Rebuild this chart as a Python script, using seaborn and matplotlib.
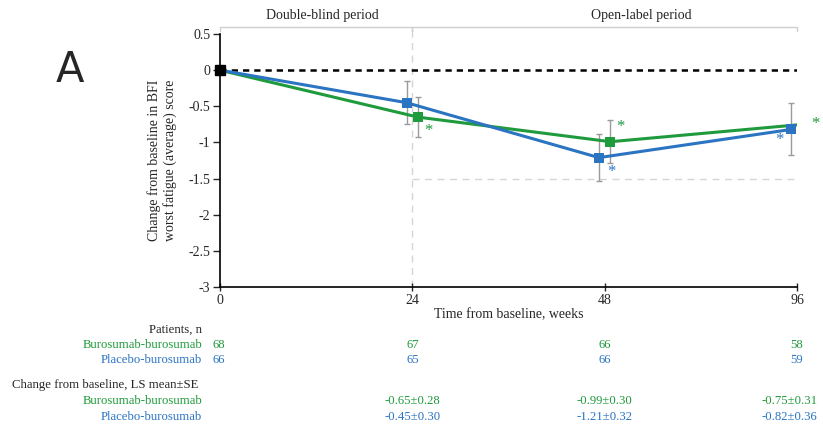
import numpy as np
import pandas as pd
import seaborn as sns
import matplotlib.pyplot as plt
from matplotlib.transforms import blended_transform_factory

# data
weeks = ["0", "24", "48", "96"]
buro_mean = [0, -0.65, -0.99, -0.75]
buro_se = [0, 0.28, 0.30, 0.31]
plac_mean = [0, -0.45, -1.21, -0.82]
plac_se = [0, 0.30, 0.32, 0.36]
buro_n = [68, 67, 66, 58]
plac_n = [66, 65, 66, 59]
yticks = [0.5, 0, -0.5, -1, -1.5, -2, -2.5, -3]

GREEN = "#1f9a3c"
BLUE = "#2a74c2"
GREY = "#9a9a9a"

sns.set_theme(style="white")
plt.rcParams["font.family"] = ["Liberation Serif", "DejaVu Serif"]

pos = np.arange(len(weeks))
df = pd.concat([
    pd.DataFrame({"pos": pos + 0.03, "mean": buro_mean, "se": buro_se, "group": "Burosumab-burosumab"}),
    pd.DataFrame({"pos": pos - 0.03, "mean": plac_mean, "se": plac_se, "group": "Placebo-burosumab"}),
])
df.loc[df["pos"] < 0.5, "pos"] = 0

fig = plt.figure(figsize=(8.23, 4.29), dpi=100)
ax = fig.add_axes([0.2673, 0.331, 0.9684 - 0.2673, 0.9207 - 0.331])

# reference lines
ax.plot([0, 3], [0, 0], color="black", lw=1.8, ls=(0, (2.5, 2)), zorder=1)
ax.plot([1, 3], [-1.5, -1.5], color="#d5d5d5", lw=1, ls=(0, (5, 4)), zorder=0)
ax.plot([1, 1], [-3, 0.6], color="#d5d5d5", lw=1, ls=(0, (5, 4)), zorder=0, clip_on=False)

# brackets
for x0, x1 in [(0, 1), (1, 3)]:
    ax.plot([x0, x0, x1, x1], [0.54, 0.6, 0.6, 0.54], color="#cfcfcf", lw=1, clip_on=False)
ax.text(0.53, 0.66, "Double-blind period", ha="center", va="bottom", fontsize=10)
ax.text(2.19, 0.66, "Open-label period", ha="center", va="bottom", fontsize=10)

# error bars
for g, sub in df.groupby("group"):
    sub = sub[sub["se"] > 0]
    ax.errorbar(sub["pos"], sub["mean"], yerr=sub["se"], fmt="none", ecolor=GREY,
                elinewidth=1, capsize=2.5, capthick=1, zorder=2)

sns.lineplot(data=df, x="pos", y="mean", hue="group", palette=[GREEN, BLUE],
             marker="s", markersize=7, markeredgewidth=0, linewidth=2.2,
             legend=False, ax=ax, zorder=3)
ax.plot([0], [0], marker="s", color="black", markersize=7, zorder=5, clip_on=False)

# significance asterisks
stars = [
    (1.03, buro_mean[1], GREEN, (10, -14)),
    (1.97, plac_mean[2], BLUE, (12, -14)),
    (2.03, buro_mean[2], GREEN, (10, 15)),
    (2.97, plac_mean[3], BLUE, (-12, -11)),
    (3.03, buro_mean[3], GREEN, (13, 0)),
]
for x, y, c, off in stars:
    ax.annotate("*", xy=(x, y), xytext=off, textcoords="offset pixels", color=c,
                ha="center", va="center", fontsize=12, annotation_clip=False)

ax.set_xlim(0, 3)
ax.set_ylim(-3, 0.5)
ax.set_xticks(pos)
ax.set_xticklabels(weeks, fontsize=10)
ax.set_yticks(yticks)
ax.set_yticklabels([f"{v:g}" for v in yticks], fontsize=10)
ax.set_xlabel("Time from baseline, weeks", fontsize=10, labelpad=1)
ax.set_ylabel("Change from baseline in BFI\nworst fatigue (average) score", fontsize=10, labelpad=8)
sns.despine(ax=ax)
for s in ["left", "bottom"]:
    ax.spines[s].set_color("black")
    ax.spines[s].set_linewidth(1.2)
ax.tick_params(axis="y", direction="out", length=5, width=1, pad=2, left=True)
ax.tick_params(axis="x", direction="inout", length=6, width=1, pad=2, bottom=True)

# panel letter
fig.text(70 / 823, 1 - 70 / 429, "A", fontsize=30, family="DejaVu Sans", ha="center", va="center")

# table under the plot
tr = blended_transform_factory(ax.transData, fig.transFigure)
fy = lambda py: 1 - py / 429
lx = 202 / 823
fs = 9.2
fig.text(lx, fy(330), "Patients, n", ha="right", va="center", fontsize=fs)
fig.text(lx, fy(345), "Burosumab-burosumab", ha="right", va="center", fontsize=fs, color=GREEN)
fig.text(lx, fy(360), "Placebo-burosumab", ha="right", va="center", fontsize=fs, color=BLUE)
for i in range(len(weeks)):
    ha = "left" if i == 0 else "center"
    xx = -0.04 if i == 0 else pos[i]
    ax.text(xx, fy(345), str(buro_n[i]), transform=tr, ha=ha, va="center", fontsize=fs, color=GREEN)
    ax.text(xx, fy(360), str(plac_n[i]), transform=tr, ha=ha, va="center", fontsize=fs, color=BLUE)

fig.text(12 / 823, fy(385), "Change from baseline, LS mean\u00b1SE", ha="left", va="center", fontsize=fs)
fig.text(lx, fy(401), "Burosumab-burosumab", ha="right", va="center", fontsize=fs, color=GREEN)
fig.text(lx, fy(417), "Placebo-burosumab", ha="right", va="center", fontsize=fs, color=BLUE)
for i in range(1, len(weeks)):
    xx = pos[i] if i < len(weeks) - 1 else pos[i] - 0.04
    ax.text(xx, fy(401), f"{buro_mean[i]:.2f}\u00b1{buro_se[i]:.2f}", transform=tr,
            ha="center", va="center", fontsize=fs, color=GREEN)
    ax.text(xx, fy(417), f"{plac_mean[i]:.2f}\u00b1{plac_se[i]:.2f}", transform=tr,
            ha="center", va="center", fontsize=fs, color=BLUE)

fig.savefig("out.png", dpi=100)
